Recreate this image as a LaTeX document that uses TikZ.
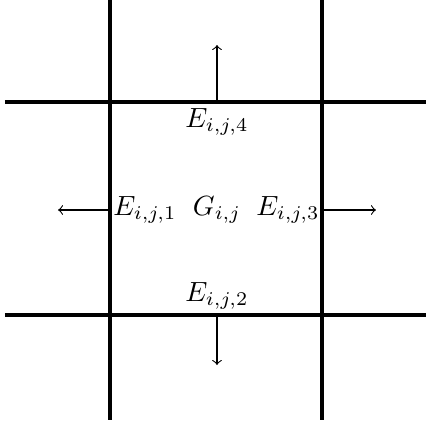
\documentclass[tikz,border=0pt]{standalone}
\begin{document}
\begin{tikzpicture}[>=to, x=0.36pt, y=-0.36pt]
\tikzset{gridline/.style={line width=1.2pt}, flux/.style={->, thin}}
\useasboundingbox (0,0) rectangle (426,425);
% Malha
\coordinate (wtop) at (110,0);   \coordinate (wbot) at (110,420);
\coordinate (etop) at (322,0);   \coordinate (ebot) at (322,420);
\coordinate (nlft) at (5,102);   \coordinate (nrgt) at (426,102);
\coordinate (slft) at (5,315);   \coordinate (srgt) at (426,315);
\draw[gridline] (wtop) -- (wbot);
\draw[gridline] (etop) -- (ebot);
\draw[gridline] (nlft) -- (nrgt);
\draw[gridline] (slft) -- (srgt);
% Celula e faces
\node (G) at (217,210) {$G_{i,j}$};
\node (E1) at (145,210) {$E_{i,j,1}$};
\node (E3) at (288,210) {$E_{i,j,3}$};
\node (E4) at (217,122) {$E_{i,j,4}$};
\node (E2) at (217,296) {$E_{i,j,2}$};
% Fluxos
\coordinate (f1) at (110,210); \coordinate (t1) at (58,210);
\coordinate (f3) at (322,210); \coordinate (t3) at (376,210);
\coordinate (f4) at (217,102); \coordinate (t4) at (217,45);
\coordinate (f2) at (217,315); \coordinate (t2) at (217,365);
\draw[flux] (f1) -- (t1);
\draw[flux] (f3) -- (t3);
\draw[flux] (f4) -- (t4);
\draw[flux] (f2) -- (t2);
\end{tikzpicture}
\end{document}
